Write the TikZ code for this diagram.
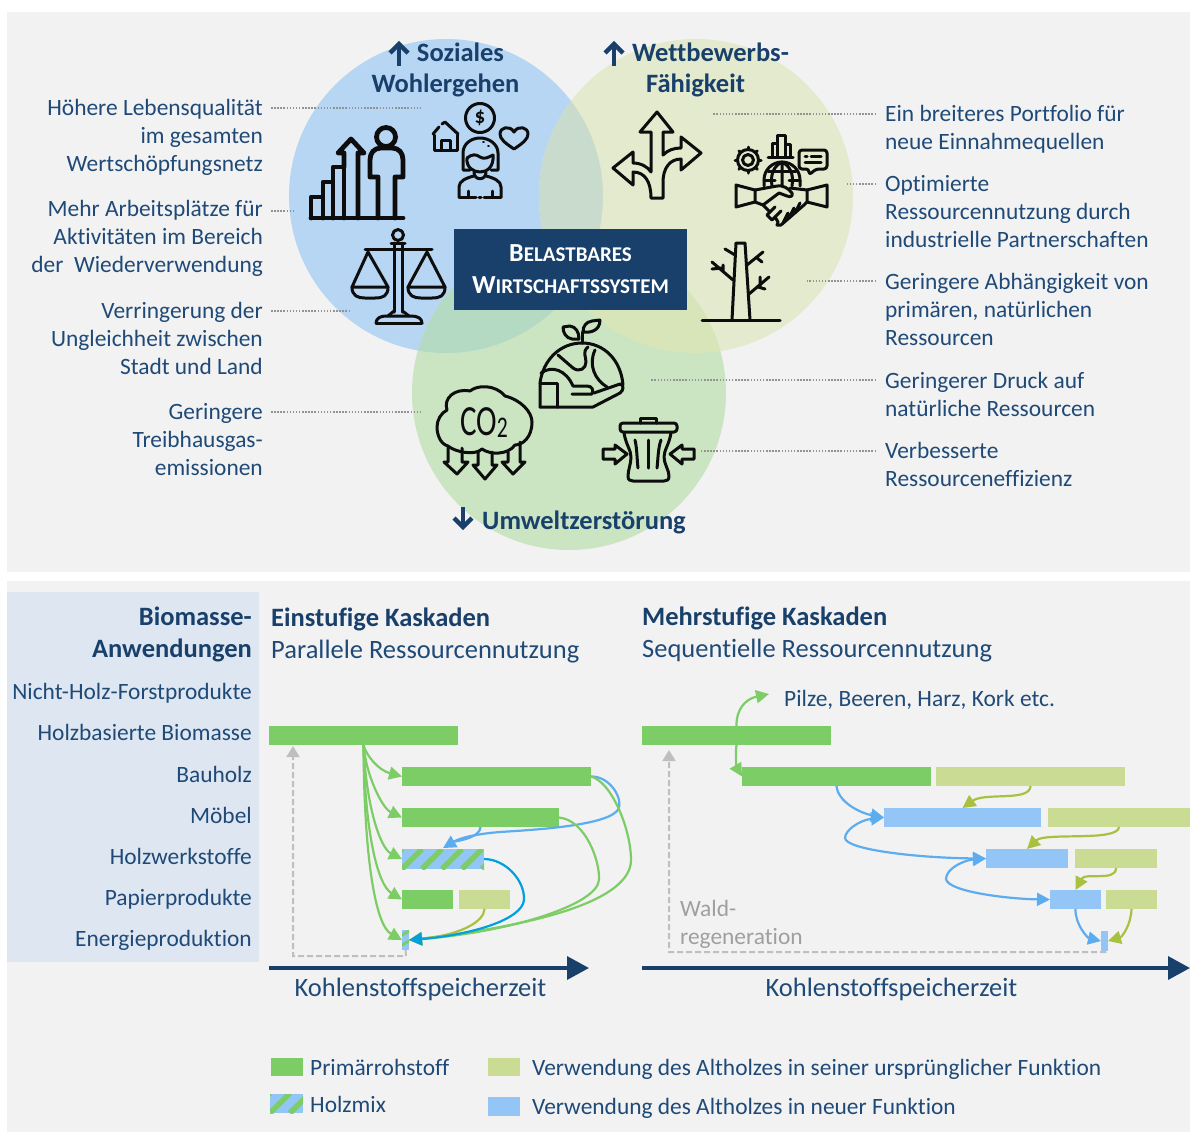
\documentclass[tikz,border=0pt]{standalone}
\usepackage{fontspec}
\setmainfont{Carlito}[Ligatures=NoCommon]
\usetikzlibrary{arrows.meta}
\definecolor{panel}{HTML}{F2F2F2}
\definecolor{sidepanel}{HTML}{DEE7F1}
\definecolor{navy}{HTML}{19406B}
\definecolor{txt}{HTML}{1F4A78}
\definecolor{cblue}{HTML}{B7D6F3}
\definecolor{cyel}{HTML}{E3EACD}
\definecolor{cgrn}{HTML}{CBE5C3}
\definecolor{ovby}{HTML}{C9DBCC}
\definecolor{ovbg}{HTML}{B4DAC4}
\definecolor{ovyg}{HTML}{D8E5B9}
\definecolor{bgreen}{HTML}{7DCD66}
\definecolor{bolive}{HTML}{CADB93}
\definecolor{bblue}{HTML}{93C5F6}
\definecolor{lblue}{HTML}{5CACF0}
\definecolor{lteal}{HTML}{00A0DC}
\definecolor{lolive}{HTML}{A9C140}
\definecolor{lgray}{HTML}{BFBFBF}
\definecolor{icn}{HTML}{0D0D0D}
\tikzset{
  body/.style={text=txt,inner sep=0pt,yshift=-2pt,font=\fontsize{23.4}{28}\selectfont,execute at begin node=\strut,execute at end node=\strut},
  bodyR/.style={body,align=right,anchor=east},
  bodyL/.style={body,align=left,anchor=west},
  big/.style={yshift=-1pt,font=\fontsize{26.5}{28}\selectfont},
  head/.style={text=navy,inner sep=0pt,yshift=-3pt,font=\fontsize{26.5}{28}\selectfont\bfseries,execute at begin node=\strut,execute at end node=\strut},
  leader/.style={draw=gray!85,line width=1.5pt,dash pattern=on 1.5pt off 1.6pt},
  ic/.style={draw=icn,line width=3pt,line join=round,line cap=round},
  icb/.style={draw=icn,line width=4.8pt,line join=round,line cap=round},
  barbox/.style={inner sep=0pt,outer sep=0pt,draw=none},
  flow/.style={line width=2.2pt,-{Triangle[length=13pt,width=13pt]}},
  flowtwo/.style={line width=2.2pt,{Triangle[length=13pt,width=13pt]}-{Triangle[length=13pt,width=13pt]}},
  regen/.style={draw=lgray,line width=2pt,dash pattern=on 6pt off 3pt,-{Triangle[length=11pt,width=13pt]}},
  axisline/.style={draw=navy,line width=3.5pt,-{Triangle[length=22pt,width=23pt]}},
  titlearrow/.style={draw=navy,line width=4.4pt},
}
\newcommand\barnode[6]{\node[barbox,fill=#6,minimum width={(#4-#2)*1pt},minimum height={(#5-#3)*1pt}] (#1) at ({(#2+#4)/2},{(#3+#5)/2}) {};}
\begin{document}
\begin{tikzpicture}[x=1pt,y=-1pt]
\useasboundingbox (0,0) rectangle (1190,1133);
\fill[white] (0,0) rectangle (1190,1133);
\fill[panel] (7,12) rectangle (1190,572);
\fill[panel] (7,581) rectangle (1190,1132);
\fill[sidepanel] (7,592) rectangle (259,962);
% circles
\fill[cblue] (446,196) circle[radius=157];
\fill[cyel] (696,196) circle[radius=157];
\fill[cgrn] (569,393) circle[radius=157];
\begin{scope}\clip (446,196) circle[radius=157];\fill[ovby] (696,196) circle[radius=157];\end{scope}
\begin{scope}\clip (446,196) circle[radius=157];\fill[ovbg] (569,393) circle[radius=157];\end{scope}
\begin{scope}\clip (696,196) circle[radius=157];\fill[ovyg] (569,393) circle[radius=157];\end{scope}
% centre box
\node[barbox,fill=navy,minimum width=233pt,minimum height=81pt,text=white,align=center,font=\fontsize{21}{32}\selectfont\bfseries] (core) at (570.5,269.5) {{\fontsize{26}{32}\selectfont B}ELASTBARES\\{\fontsize{26}{32}\selectfont W}IRTSCHAFTSSYSTEM};
% headings
\draw[titlearrow] (399,66)--(399,45);
\draw[titlearrow] (390,53)--(399,44)--(408,53);
\node[head,anchor=center] (h1a) at (460.5,53) {Soziales};
\node[head,anchor=center] (h1b) at (445.5,84) {Wohlergehen};
\draw[titlearrow] (614,66)--(614,45);
\draw[titlearrow] (605,53)--(614,44)--(623,53);
\node[head,anchor=center] (h2a) at (710.5,53) {Wettbewerbs-};
\node[head,anchor=center] (h2b) at (695.5,84) {Fähigkeit};
\draw[titlearrow] (463,507)--(463,526);
\draw[titlearrow] (454,518)--(463,527)--(472,518);
\node[head,anchor=center] (h3) at (584,521) {Umweltzerstörung};
% left texts
\node[bodyR] (tl1) at (263,138) {Höhere Lebensqualität\\im gesamten\\Wertschöpfungsnetz};
\node[bodyR] (tl2) at (263,239) {Mehr Arbeitsplätze für\\Aktivitäten im Bereich\\der\ \ Wiederverwendung};
\node[bodyR] (tl3) at (263,341) {Verringerung der\\Ungleichheit zwischen\\Stadt und Land};
\node[bodyR] (tl4) at (263,442) {Geringere\\Treibhausgas-\\emissionen};
% right texts
\node[bodyL] (tr1) at (885,130) {Ein breiteres Portfolio für\\neue Einnahmequellen};
\node[bodyL] (tr2) at (885,214) {Optimierte\\Ressourcennutzung durch\\industrielle Partnerschaften};
\node[bodyL] (tr3) at (885,312) {Geringere Abhängigkeit von\\primären, natürlichen\\Ressourcen};
\node[bodyL] (tr4) at (885,397) {Geringerer Druck auf\\natürliche Ressourcen};
\node[bodyL] (tr5) at (885,467) {Verbesserte\\Ressourceneffizienz};
% leaders
\coordinate (la1) at (271,108); \coordinate (lb1) at (422,108); \draw[leader] (la1)--(lb1);
\coordinate (la2) at (271,211); \coordinate (lb2) at (295,211); \draw[leader] (la2)--(lb2);
\coordinate (la3) at (271,311); \coordinate (lb3) at (350,311); \draw[leader] (la3)--(lb3);
\coordinate (la4) at (271,412); \coordinate (lb4) at (422,412); \draw[leader] (la4)--(lb4);
\coordinate (ra1) at (876,114); \coordinate (rb1) at (713,114); \draw[leader] (ra1)--(rb1);
\coordinate (ra2) at (876,184); \coordinate (rb2) at (845,184); \draw[leader] (ra2)--(rb2);
\coordinate (ra3) at (876,281); \coordinate (rb3) at (807,281); \draw[leader] (ra3)--(rb3);
\coordinate (ra4) at (876,380); \coordinate (rb4) at (650,380); \draw[leader] (ra4)--(rb4);
\coordinate (ra5) at (876,451); \coordinate (rb5) at (700,451); \draw[leader] (ra5)--(rb5);
% ICON person + bars
\draw[icb] (311,218)--(403,218);
\draw[icb] (311,218)--(311,197)--(323,197)--(323,218);
\draw[icb] (323,197)--(323,182)--(333,182)--(333,218);
\draw[icb] (333,182)--(333,167)--(344,167)--(344,218);
\draw[icb] (344,167)--(344,153)--(338,153)--(351,139)--(364,153)--(358,153)--(358,218);
\draw[icb] (386,137) circle[radius=9.5];
\draw[icb] (378,218)--(378,177)--(370,177)--(370,160) .. controls (370,153) and (374,148) .. (381,148) -- (392,148) .. controls (399,148) and (403,153) .. (403,160) -- (403,177)--(395,177)--(395,218);
% ICON woman
\draw[ic] (480,118) circle[radius=14.5];
\node[inner sep=0pt,text=icn,font=\fontsize{21}{21}\selectfont\bfseries] (dollar) at (480,118) {\$};
\draw[ic] (434,135)--(434,150)--(457,150)--(457,135);
\draw[ic] (433,134)--(439,127) (442,124)--(445,122)--(458,134);
\draw[ic] (441,150)--(441,140)--(450,140)--(450,150);
\draw[ic] (514,149) .. controls (505,143) and (500,139) .. (500,134) .. controls (500,127) and (510,125) .. (514,132) .. controls (518,125) and (528,127) .. (528,134) .. controls (528,139) and (523,143) .. (514,149);
\draw[ic] (470,170)--(463,170)--(463,153) .. controls (463,144) and (471,138) .. (480,138) .. controls (489,138) and (498,144) .. (498,153) -- (498,170)--(491,170);
\draw[ic] (467,158) .. controls (472,154) and (476,154) .. (480,157) .. controls (484,160) and (489,157) .. (493,155);
\draw[ic] (467,158) .. controls (466,167) and (473,172) .. (480,172) .. controls (487,172) and (494,167) .. (493,155);
\draw[ic] (474,172) .. controls (474,181) and (486,181) .. (486,172);
\draw[ic] (459,197)--(459,187) .. controls (459,181) and (466,178) .. (474,176);
\draw[ic] (501,197)--(501,187) .. controls (501,181) and (494,178) .. (486,176);
\draw[ic] (459,197)--(476,197) (479,197)--(481,197) (484,197)--(501,197);
\draw[ic] (468,197)--(468,191) (492,197)--(492,191);
\draw[icn,line width=1.6pt,line cap=round] (483,142)--(484,142) (488,146)--(489,146);
% ICON scale
\draw[ic] (398,235) circle[radius=5.5];
\draw[ic] (391,243)--(405,243);
\draw[ic] (394,243)--(394,312) (402.5,243)--(402.5,312);
\draw[ic] (365,249)--(432,249);
\draw[ic] (368,252)--(352,287)--(388,287)--cycle;
\draw[ic] (427,252)--(408,287)--(445,287)--cycle;
\draw[ic] (352,287) .. controls (352,296) and (358,298) .. (365,298) -- (375,298) .. controls (383,298) and (388,296) .. (388,287);
\draw[ic] (408,287) .. controls (408,296) and (414,298) .. (421,298) -- (432,298) .. controls (440,298) and (445,296) .. (445,287);
\draw[ic] (376,323)--(422,323);
\draw[ic] (376,323) .. controls (376,318) and (381,316) .. (386,316) -- (411,316) .. controls (417,316) and (422,318) .. (422,323);
\draw[ic] (388,316)--(394,311) (402.5,311)--(409,316);
% ICON arrows
\draw[ic] (651,198) .. controls (651,182) and (645,172) .. (633,172) -- (633,185) -- (613,168) -- (633,152) -- (633,163) .. controls (641,163) and (648,167) .. (651,172) -- (651,132) -- (640,132) -- (657,112) -- (673,132) -- (663,132) -- (663,155) .. controls (668,150) and (674,148) .. (681,148) -- (681,137) -- (701,153) -- (681,170) -- (681,159) .. controls (670,159) and (663,168) .. (663,182) -- (663,198) -- cycle;
% ICON handshake
\draw[ic] (748,160) circle[radius=10.5];
\draw[ic] (748,160) circle[radius=5.5];
\begin{scope}[shift={(748,160)}]
\foreach \a in {0,45,...,315} {\draw[ic] (\a:11)--(\a:13);}
\end{scope}
\draw[ic] (768,157)--(793,157);
\draw[ic] (772,157)--(772,143)--(777,143)--(777,135)--(785,135)--(785,144)--(790,144)--(790,157);
\draw[ic] (777,143)--(777,157) (785,144)--(785,157);
\draw[ic,rounded corners=3pt] (799,150)--(827,150)--(827,169)--(816,169)--(809,175)--(809,169)--(799,169)--cycle;
\draw[ic] (805,156)--(807,156) (811,156)--(821,156) (805,162)--(821,162);
\draw[ic] (764,186)--(764,180) .. controls (764,170) and (772,162) .. (782,162) .. controls (792,162) and (800,170) .. (800,180) -- (800,186);
\draw[ic] (782,162)--(782,186) (772,186) .. controls (770,174) and (774,166) .. (782,162) .. controls (790,166) and (794,174) .. (792,186);
\draw[ic] (768,171)--(796,171) (764,180)--(775,180) (789,180)--(800,180);
\draw[ic] (736,185)--(755,190)--(755,202)--(736,207)--cycle;
\draw[ic] (827,185)--(807,190)--(807,202)--(827,207)--cycle;
\draw[ic] (755,190)--(777,186) .. controls (783,185) and (788,188) .. (792,193) .. controls (793,197) and (790,197) .. (787,196) -- (779,193) -- (763,205);
\draw[ic] (755,202)--(763,205)--(770,212)--(767,215)--(772,220)--(775,217)--(778,222)--(777,225)--(781,225)--(804,205)--(807,202);
\draw[ic] (807,190)--(790,188);
\draw[ic] (770,212)--(775,207) (775,217)--(781,211);
\draw[ic] (783,223)--(788,213) (789,218)--(794,208) (795,213)--(800,203);
% ICON tree
\draw[ic] (732,320)--(736,243)--(745,243)--(750,320);
\draw[ic] (702,320)--(780,320);
\draw[ic] (735,255)--(725,249) (733,280)--(712,262) (723,272)--(723,265) (722,268)--(712,269);
\draw[ic] (747,265)--(763,252) (757,258)--(762,262);
\draw[ic] (749,294)--(769,277) (760,287)--(760,277) (758,287)--(765,289);
% ICON earth
\draw[ic] (540,407)--(540,383) .. controls (543,360) and (560,343) .. (582,343) .. controls (604,343) and (621,360) .. (623,385);
\draw[ic] (540,383)--(557,383)--(557,407);
\draw[ic] (540,407)--(593,407)--(620,393) .. controls (624,390) and (624,385) .. (620,384) -- (594,393);
\draw[ic] (541,373) .. controls (552,365) and (566,370) .. (573,386) -- (587,386) .. controls (592,386) and (594,390) .. (592,394) -- (572,394);
\draw[ic] (558,355)--(573,368) .. controls (580,373) and (586,368) .. (586,362) .. controls (586,356) and (582,352) .. (588,347);
\draw[ic] (595,350) .. controls (588,365) and (595,380) .. (607,387);
\draw[ic] (582,343)--(582,332);
\draw[ic] (563,327) -- (570,326) .. controls (576,327) and (579,332) .. (579,339) -- (572,339) .. controls (566,338) and (563,333) .. (563,327);
\draw[ic] (600,320)--(592,321) .. controls (586,322) and (583,326) .. (583,332) .. controls (590,333) and (600,331) .. (600,320);
% ICON CO2
\draw[ic] (448,446) .. controls (440,444) and (437,434) .. (437,427) .. controls (437,420) and (441,413) .. (447,410) .. controls (443,398) and (455,388) .. (470,391) .. controls (477,385) and (495,384) .. (505,396) .. controls (521,400) and (532,412) .. (532,422) .. controls (532,438) and (522,445) .. (515,445) .. controls (508,455) and (490,455) .. (482,449) .. controls (475,456) and (455,452) .. (448,446);
\node[inner sep=0pt,text=icn,font=\fontsize{43}{43}\selectfont] (co) at (484,423) {\scalebox{.72}[1]{CO\raisebox{-2pt}{\fontsize{30}{30}\selectfont 2}}};
\draw[ic] (448,447)--(448,462)--(444,462)--(457,474)--(468,462)--(462,462)--(462,448);
\draw[ic] (478,452)--(478,465)--(473,465)--(485,479)--(497,465)--(492,465)--(492,452);
\draw[ic] (508,452)--(508,462)--(502,462)--(513,474)--(525,462)--(520,462)--(520,442);
% ICON bin
\draw[ic,rounded corners=3pt] (620,423) rectangle (677,432);
\draw[ic] (640,423)--(640,418)--(656,418)--(656,423);
\draw[ic] (624,433) .. controls (626,445) and (631,450) .. (631,457) .. controls (631,464) and (628,470) .. (628,476) .. controls (628,480) and (630,481) .. (633,481) -- (664,481) .. controls (667,481) and (669,480) .. (669,476) .. controls (669,470) and (664,464) .. (664,457) .. controls (664,450) and (669,445) .. (671,433);
\draw[ic] (635,440) .. controls (637,448) and (637,460) .. (638,468);
\draw[ic] (648,440)--(648,468);
\draw[ic] (661,440) .. controls (658,448) and (658,460) .. (657,468);
\draw[ic] (603,449)--(603,459)--(615,459)--(615,464)--(627,454)--(615,445)--(615,449)--cycle;
\draw[ic] (694,449)--(694,459)--(682,459)--(682,464)--(670,454)--(682,445)--(682,449)--cycle;
% LOWER PANEL
\node[head,anchor=east] (sa) at (252,617) {Biomasse-};
\node[head,anchor=east] (sb) at (252,649) {Anwendungen};
\node[bodyR] (c1) at (252,692) {Nicht-Holz-Forstprodukte};
\node[bodyR] (c2) at (252,733) {Holzbasierte Biomasse};
\node[bodyR] (c3) at (252,775) {Bauholz};
\node[bodyR] (c4) at (252,816) {Möbel};
\node[bodyR] (c5) at (252,857) {Holzwerkstoffe};
\node[bodyR] (c6) at (252,898) {Papierprodukte};
\node[bodyR] (c7) at (252,939) {Energieproduktion};
\node[head,anchor=west] (t1) at (271,618) {Einstufige Kaskaden};
\node[bodyL,big] (t1b) at (271,650) {Parallele Ressourcennutzung};
\node[head,anchor=west] (t2) at (642,617) {Mehrstufige Kaskaden};
\node[bodyL,big] (t2b) at (642,649) {Sequentielle Ressourcennutzung};
% left diagram bars
\barnode{top}{269}{726}{458}{745}{bgreen}
\barnode{b1}{402}{767}{591}{786}{bgreen}
\barnode{b2}{402}{808}{559}{827}{bgreen}
\barnode{hm}{402}{849}{484}{869}{bblue}
\begin{scope}\clip (hm.south west) rectangle (hm.north east);
\foreach \s in {382,402,...,482}{\draw[bgreen,line width=5.5pt] (\s,869)--(\s+20,849);}
\end{scope}
\barnode{p1}{402}{890}{453}{909}{bgreen}
\barnode{p2}{459}{890}{510}{909}{bolive}
\barnode{en}{402}{930}{409}{950}{bblue}
\begin{scope}\clip (en.south west) rectangle (en.north east);
\draw[bgreen,line width=3pt] (400,936)--(411,930) (400,946)--(411,940);
\end{scope}
% left dashed return
\coordinate (lc1) at (406,956); \coordinate (lc2) at (293,956); \coordinate (lc3) at (293,746);
\draw[regen] (en.south)--(lc1)--(lc2)--(lc3);
% left flows
\draw[flow,draw=bgreen] (top.south) .. controls (366,755) and (378,770) .. (b1.west);
\draw[flow,draw=bgreen] (top.south) .. controls (366,775) and (382,808) .. (b2.west);
\draw[flow,draw=bgreen] (top.south) .. controls (366,805) and (380,848) .. (hm.west);
\draw[flow,draw=bgreen] (top.south) .. controls (365,835) and (378,885) .. (p1.west);
\draw[flow,draw=bgreen] (top.south) .. controls (364,855) and (375,925) .. (en.west);
\draw[flow,draw=lblue] (b1.east) .. controls (608,776) and (622,795) .. (619,808) .. controls (612,826) and (530,830) .. (500,832) .. controls (475,834) and (460,838) .. (443,848);
\draw[draw=lblue,line width=2.2pt] (b2.south) .. controls (480,836) and (465,840) .. (452,842);
\draw[flow,draw=bgreen] (b1.east) .. controls (612,782) and (631,830) .. (631,860) .. controls (631,900) and (540,925) .. (en.east);
\draw[flow,draw=bgreen] (b2.east) .. controls (585,820) and (600,860) .. (599,880) .. controls (597,905) and (510,932) .. (en.east);
\draw[flow,draw=lolive] (p2.south) .. controls (484,922) and (460,935) .. (en.east);
\draw[flow,draw=lteal] (hm.east) .. controls (505,859) and (525,880) .. (524,900) .. controls (522,920) and (470,935) .. (en.east);
% right diagram bars
\barnode{r0}{642}{726}{831}{745}{bgreen}
\barnode{r1}{742}{767}{931}{786}{bgreen}
\barnode{o1}{936}{767}{1125}{786}{bolive}
\barnode{r2}{884}{808}{1041}{827}{bblue}
\barnode{o2}{1048}{808}{1190}{827}{bolive}
\barnode{r3}{986}{849}{1068}{868}{bblue}
\barnode{o3}{1075}{849}{1157}{868}{bolive}
\barnode{r4}{1050}{890}{1101}{909}{bblue}
\barnode{o4}{1106}{890}{1157}{909}{bolive}
\barnode{r5}{1101}{931}{1108}{951}{bblue}
\node[bodyL] (pz) at (784,699) {Pilze, Beeren, Harz, Kork etc.};
\coordinate (pzt) at (769,694);
\coordinate (rc1) at (1105,952); \coordinate (rc2) at (669,952); \coordinate (rc3) at (669,750);
\draw[regen] (r5.south)--(rc1)--(rc2)--(rc3);
\node[bodyL,text=gray!75] (wald) at (680,924.5) {Wald-\\regeneration};
\draw[flow,draw=bgreen] (r0.north) .. controls (736,710) and (745,699) .. (pzt);
\draw[flow,draw=bgreen] (r0.south) .. controls (735,755) and (737,768) .. (r1.west);
\draw[flow,draw=lblue] (r1.south) .. controls (838,802) and (860,813) .. (r2.west);
\draw[flowtwo,draw=lblue] (r2.west) .. controls (860,820) and (845,830) .. (845,838) .. controls (846,850) and (920,858) .. (r3.west);
\draw[flowtwo,draw=lblue] (r3.west) .. controls (965,860) and (946,868) .. (946,879) .. controls (948,892) and (1010,899) .. (r4.west);
\draw[flow,draw=lolive] (o1.south) .. controls (1030,802) and (985,792) .. (r2.north);
\draw[flow,draw=lolive] (o2.south) .. controls (1118,842) and (1045,832) .. (r3.north);
\draw[flow,draw=lolive] (o3.south) .. controls (1116,882) and (1085,872) .. (r4.north);
\draw[flow,draw=lblue] (r4.south) .. controls (1075,925) and (1088,938) .. (r5.west);
\draw[flow,draw=lolive] (o4.south) .. controls (1131,925) and (1122,937) .. (r5.east);
% axes
\coordinate (ax1) at (269,968); \coordinate (ax2) at (589,968); \draw[axisline] (ax1)--(ax2);
\coordinate (ax3) at (642,968); \coordinate (ax4) at (1190,968); \draw[axisline] (ax3)--(ax4);
\node[body,big] (k1) at (420.5,988) {Kohlenstoffspeicherzeit};
\node[body,big] (k2) at (891.5,988) {Kohlenstoffspeicherzeit};
% legend
\barnode{lg1}{271}{1058}{303}{1076}{bgreen}
\node[bodyL] (lt1) at (310,1068) {Primärrohstoff};
\barnode{lg2}{270}{1094}{303}{1113}{bblue}
\begin{scope}\clip (lg2.south west) rectangle (lg2.north east);
\foreach \s in {250,270,...,310}{\draw[bgreen,line width=5.5pt] (\s,1113)--(\s+20,1093);}
\end{scope}
\node[bodyL] (lt2) at (310,1105) {Holzmix};
\barnode{lg3}{488}{1058}{520}{1076}{bolive}
\node[bodyL] (lt3) at (532,1068) {Verwendung des Altholzes in seiner ursprünglicher Funktion};
\barnode{lg4}{488}{1097}{520}{1116}{bblue}
\node[bodyL] (lt4) at (532,1107) {Verwendung des Altholzes in neuer Funktion};
\end{tikzpicture}
\end{document}
